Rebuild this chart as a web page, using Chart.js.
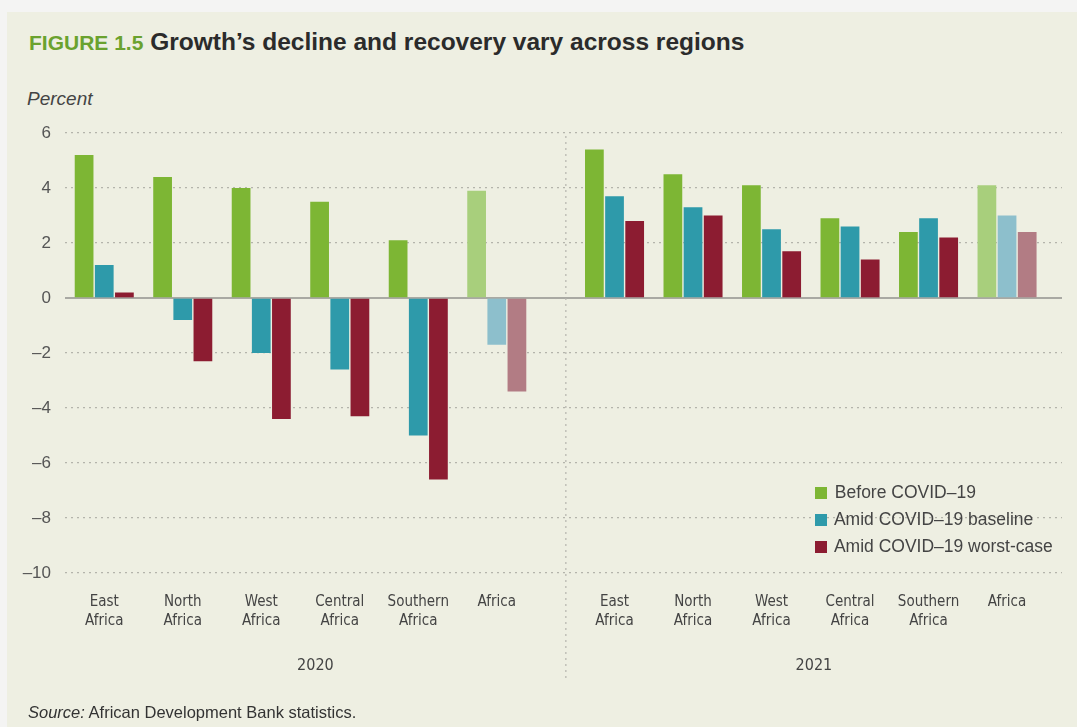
<!DOCTYPE html>
<html>
<head>
<meta charset="utf-8">
<script src="https://cdn.jsdelivr.net/npm/chart.js@4.4.1/dist/chart.umd.min.js"></script>
<style>
  html, body { margin: 0; padding: 0; background: #f4f4f3; width: 1077px; height: 727px; overflow: hidden; }
  #panel { position: absolute; left: 7px; top: 12px; width: 1070px; height: 715px; background: #eeefe2; }
  #title { position: absolute; left: 29px; top: 28px; font: bold 24.5px "Liberation Sans", Arial, sans-serif; color: #2b2b2b; white-space: nowrap; }
  #title span { color: #6aa22e; font-size: 21px; }
  #unit { position: absolute; left: 27px; top: 88px; font: italic 19px "Liberation Sans", Arial, sans-serif; color: #444; }
  #source { position: absolute; left: 28px; top: 703px; font: 16.5px "Liberation Sans", Arial, sans-serif; color: #333; white-space: nowrap; }
  #chartBox { position: absolute; left: 0; top: 0; width: 1077px; height: 727px; }
  #legend { position: absolute; left: 815px; top: 480px; font: 17.5px "Liberation Sans", Arial, sans-serif; color: #444; }
  #legend div { height: 27px; line-height: 24px; white-space: nowrap; }
  #legend i { display: inline-block; width: 12px; height: 12px; margin-right: 3px; vertical-align: -1px; }
</style>
</head>
<body>
<div id="panel"></div>
<div id="title"><span>FIGURE 1.5</span> Growth’s decline and recovery vary across regions</div>
<div id="unit">Percent</div>
<div id="chartBox"><canvas id="growthChart" width="1077" height="727"></canvas></div>
<div id="legend"></div>
<div id="source"><i>Source:</i> African Development Bank statistics.</div>
<script>
// Regions and years
const regions = [['East', 'Africa'], ['North', 'Africa'], ['West', 'Africa'], ['Central', 'Africa'], ['Southern', 'Africa'], ['Africa']];
const years = ['2020', '2021'];
const yTicks = [6, 4, 2, 0, -2, -4, -6, -8, -10];

// Growth in percent, order follows regions
const before2020 = [5.2, 4.4, 4.0, 3.5, 2.1, 3.9];
const baseline2020 = [1.2, -0.8, -2.0, -2.6, -5.0, -1.7];
const worst2020 = [0.2, -2.3, -4.4, -4.3, -6.6, -3.4];
const before2021 = [5.4, 4.5, 4.1, 2.9, 2.4, 4.1];
const baseline2021 = [3.7, 3.3, 2.5, 2.6, 2.9, 3.0];
const worst2021 = [2.8, 3.0, 1.7, 1.4, 2.2, 2.4];

const seriesNames = ['Before COVID–19', 'Amid COVID–19 baseline', 'Amid COVID–19 worst-case'];
const colors = ['#7db634', '#2e9aaa', '#8c1c31'];
const lightColors = ['#a8cf7c', '#8dbfcc', '#b27c84'];

// 2021 groups sit after a small gap
const yearGap = 1.5;
function slot(yearIdx, i) {
  return yearIdx === 0 ? i : i + regions.length - 1 + yearGap;
}
const slots = [];
years.forEach((y, yi) => regions.forEach((r, i) => slots.push(slot(yi, i))));
const separatorAt = slot(0, regions.length - 1) + 0.88;

function makeData(v2020, v2021) {
  return v2020.map((v, i) => ({ x: slot(0, i), y: v }))
    .concat(v2021.map((v, i) => ({ x: slot(1, i), y: v })));
}
const seriesData = [
  makeData(before2020, before2021),
  makeData(baseline2020, baseline2021),
  makeData(worst2020, worst2021)
];

// Africa aggregate bars are lighter
function barColors(k) {
  return slots.map((s, idx) => (idx % regions.length === regions.length - 1) ? lightColors[k] : colors[k]);
}

// HTML legend
document.getElementById('legend').innerHTML = seriesNames
  .map((n, k) => `<div><i style="background:${colors[k]}"></i> ${n}</div>`).join('');

const yearLabels = {
  id: 'yearLabels',
  beforeDatasetsDraw(chart) {
    // solid zero line
    const ctx = chart.ctx;
    const y0 = chart.scales.y.getPixelForValue(0);
    ctx.save();
    ctx.strokeStyle = '#a9a9a3';
    ctx.lineWidth = 2;
    ctx.beginPath();
    ctx.moveTo(chart.chartArea.left, y0);
    ctx.lineTo(chart.chartArea.right, y0);
    ctx.stroke();
    ctx.restore();
  },
  afterDraw(chart) {
    const ctx = chart.ctx;
    const xs = chart.scales.x;
    const area = chart.chartArea;
    const sep = xs.getPixelForValue(separatorAt);
    ctx.save();
    // dotted separator between the years
    ctx.strokeStyle = '#b5b5ad';
    ctx.lineWidth = 1.2;
    ctx.setLineDash([2, 4]);
    ctx.beginPath();
    ctx.moveTo(sep, area.top + 3);
    ctx.lineTo(sep, 682);
    ctx.stroke();
    ctx.setLineDash([]);
    ctx.fillStyle = '#444';
    ctx.font = '16px "Liberation Sans Narrow", "DejaVu Sans Condensed", sans-serif';
    ctx.textAlign = 'center';
    ctx.textBaseline = 'middle';
    ctx.fillText(years[0], (area.left + sep) / 2, 666);
    ctx.fillText(years[1], (sep + area.right) / 2, 666);
    ctx.restore();
  }
};

const ctx = document.getElementById('growthChart').getContext('2d');
const growthChart = new Chart(ctx, {
  type: 'bar',
  data: {
    datasets: seriesNames.map((n, k) => ({
      label: n,
      data: seriesData[k],
      backgroundColor: barColors(k),
      borderWidth: 0,
      categoryPercentage: 0.77,
      barPercentage: 0.93
    }))
  },
  options: {
    responsive: false,
    animation: false,
    devicePixelRatio: 1,
    layout: { padding: { top: 133, right: 15, bottom: 94, left: 0 } },
    plugins: { legend: { display: false }, tooltip: { enabled: false } },
    scales: {
      x: {
        type: 'linear',
        offset: false,
        min: -0.5,
        max: 12.2,
        afterBuildTicks: scale => { scale.ticks = slots.map(v => ({ value: v })); },
        afterFit: scale => { scale.height = 60; },
        grid: { display: false, drawTicks: false },
        border: { display: false },
        ticks: {
          autoSkip: false,
          maxRotation: 0,
          padding: 20,
          color: '#444',
          font: { family: '"Liberation Sans Narrow", "DejaVu Sans Condensed", sans-serif', size: 15, lineHeight: 1.25 },
          callback: (v, i) => regions[i % regions.length]
        }
      },
      y: {
        min: -10,
        max: 6,
        afterBuildTicks: scale => { scale.ticks = yTicks.map(v => ({ value: v })); },
        afterFit: scale => { scale.width = 65; },
        border: { display: false, dash: [2, 4] },
        grid: {
          drawTicks: false,
          color: ctx => ctx.tick.value === 0 ? 'rgba(0,0,0,0)' : '#b4b4ab',
          lineWidth: 1.3
        },
        ticks: {
          padding: 14,
          color: '#555',
          font: { family: '"Liberation Sans", Arial, sans-serif', size: 17 },
          callback: v => v < 0 ? '–' + Math.abs(v) : String(v)
        }
      }
    }
  },
  plugins: [yearLabels]
});
</script>
</body>
</html>
